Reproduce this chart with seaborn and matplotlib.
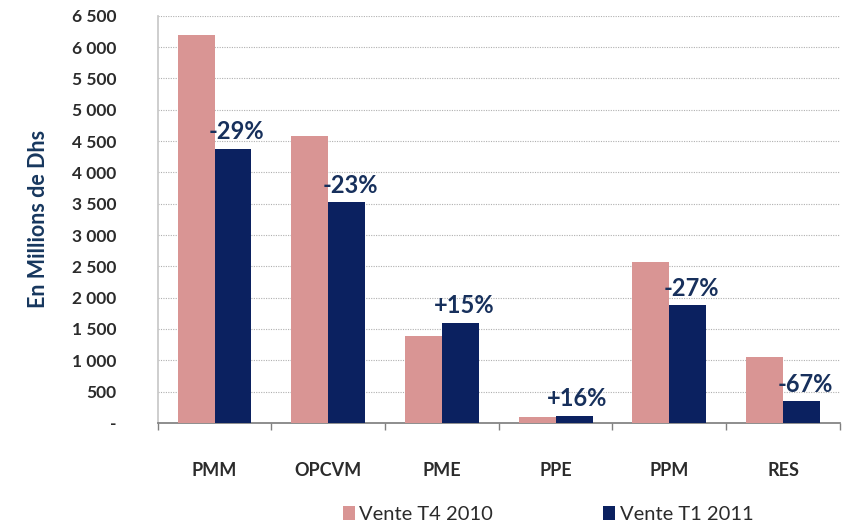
import numpy as np
import pandas as pd
import matplotlib
matplotlib.use("Agg")
import matplotlib.pyplot as plt
import seaborn as sns
from matplotlib.ticker import FuncFormatter, FixedLocator

# Données (millions de Dhs)
categories = ["PMM", "OPCVM", "PME", "PPE", "PPM", "RES"]
vente_t4_2010 = [6190, 4580, 1390, 95, 2570, 1055]
vente_t1_2011 = [4380, 3520, 1600, 110, 1880, 345]
variations = ["-29%", "-23%", "+15%", "+16%", "-27%", "-67%"]
series = ["Vente T4 2010", "Vente T1 2011"]

df = pd.DataFrame({
    "categorie": categories * 2,
    "serie": [series[0]] * len(categories) + [series[1]] * len(categories),
    "valeur": vente_t4_2010 + vente_t1_2011,
})

sns.set_theme(style="white")
plt.rcParams["font.family"] = ["Lato", "DejaVu Sans"]

pink = "#D99594"
navy = "#0B2160"
text_dark = "#2B2B2B"

fig = plt.figure(figsize=(8.57, 5.28), dpi=100)
ax = fig.add_axes([0.184, 0.199, 0.796, 0.771])

sns.barplot(data=df, x="categorie", y="valeur", hue="serie",
            palette=[pink, navy], width=0.65, gap=0, ax=ax,
            saturation=1, legend=True, linewidth=0, zorder=3)

ax.set_ylim(0, 6500)
ax.set_xlim(-0.5, len(categories) - 0.5)
ax.yaxis.set_major_locator(FixedLocator(np.arange(0, 6501, 500)))
ax.yaxis.set_major_formatter(FuncFormatter(
    lambda v, p: "-" if v == 0 else f"{int(v):,}".replace(",", " ")))
ax.grid(axis="y", linestyle=(0, (1, 1.2)), color="#B0B0B0", linewidth=0.8, zorder=0)
ax.grid(axis="x", visible=False)

for s in ["top", "right"]:
    ax.spines[s].set_visible(False)
ax.spines["left"].set_color("#C8C8C8")
ax.spines["bottom"].set_color("#808080")

ax.tick_params(axis="y", length=0, pad=30, labelsize=12.5, labelcolor=text_dark)
ax.tick_params(axis="x", which="major", length=0, pad=28, labelsize=13, labelcolor=text_dark)
ax.set_xticks(np.arange(-0.5, len(categories), 1.0), minor=True)
ax.tick_params(axis="x", which="minor", length=5, color="#808080", bottom=True)
for lab in ax.get_yticklabels() + ax.get_xticklabels():
    lab.set_fontweight("bold")

ax.set_xlabel("")
ax.set_ylabel("En Millions de Dhs", fontsize=15.5, fontweight="bold", color="#17375E", labelpad=16)

# étiquettes de variation au-dessus des barres T1 2011
bar_w = 0.65 / 2
for i, (val, txt) in enumerate(zip(vente_t1_2011, variations)):
    ax.text(i + bar_w / 2 + 0.03, val + 90, txt, ha="center", va="bottom",
            fontsize=17, fontweight="bold", color="#17305C", zorder=5)

leg = ax.legend(loc="center", bbox_to_anchor=(0.572, -0.226), ncol=2, frameon=False,
                fontsize=14.5, handlelength=0.6, handleheight=0.7, handletextpad=0.2,
                columnspacing=5.5)
for t in leg.get_texts():
    t.set_color(text_dark)

fig.savefig("out.png", dpi=100)
